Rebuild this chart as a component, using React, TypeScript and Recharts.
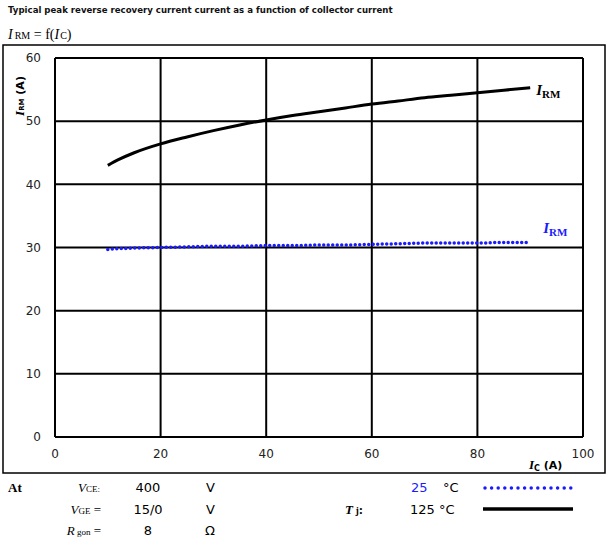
import { LineChart, Line, XAxis, YAxis, CartesianGrid } from "recharts";

const icValues = [10, 12, 15, 20, 25, 30, 35, 40, 45, 50, 55, 60, 65, 70, 75, 80, 85, 90];
const irm125 = [43.0, 43.9, 45.0, 46.4, 47.5, 48.5, 49.4, 50.2, 50.9, 51.5, 52.1, 52.7, 53.2, 53.7, 54.1, 54.5, 54.9, 55.3];
const irm25 = [29.7, 29.8, 29.9, 30.0, 30.1, 30.2, 30.2, 30.3, 30.3, 30.4, 30.4, 30.5, 30.6, 30.7, 30.7, 30.7, 30.8, 30.8];
const xTicks = [0, 20, 40, 60, 80, 100];
const yTicks = [0, 10, 20, 30, 40, 50, 60];

const data = icValues.map((ic, i) => ({ ic, hot: irm125[i], cold: irm25[i] }));

const sans = "'DejaVu Sans', Verdana, sans-serif";
const serif = "'Liberation Serif', 'Times New Roman', serif";

// curve end label, drawn only on the last point
const endLabel = (color: string, dx: number, dy: number) => (props: any) => {
  if (props.index !== data.length - 1) return null;
  return (
    <text x={props.x + dx} y={props.y + dy} fill={color} fontFamily={serif} fontSize={15} fontWeight="bold">
      <tspan fontStyle="italic">I</tspan>
      <tspan fontSize={11} dy={3}>RM</tspan>
    </text>
  );
};

export default function App() {
  return (
    <div style={{ position: "absolute", left: 0, top: 0, width: 607, height: 545, background: "#fff" }}>
      <LineChart width={607} height={545} data={data} margin={{ top: 58, right: 24, bottom: 78, left: 5 }}>
        <CartesianGrid stroke="#000" strokeWidth={2} />
        <XAxis
          dataKey="ic"
          type="number"
          domain={[0, 100]}
          ticks={xTicks}
          height={30}
          tick={{ fontSize: 12, fill: "#222", fontFamily: sans }}
          tickLine={false}
          axisLine={{ stroke: "#000", strokeWidth: 2 }}
          tickMargin={6}
        />
        <YAxis
          type="number"
          domain={[0, 60]}
          ticks={yTicks}
          width={50}
          tick={{ fontSize: 12, fill: "#222", fontFamily: sans }}
          tickLine={false}
          axisLine={{ stroke: "#000", strokeWidth: 2 }}
          tickMargin={8}
        />
        <Line
          dataKey="hot"
          stroke="#000"
          strokeWidth={3}
          dot={false}
          type="monotone"
          isAnimationActive={false}
          label={endLabel("#000", 6, 7)}
        />
        <Line
          dataKey="cold"
          stroke="#1a1aff"
          strokeWidth={3.5}
          strokeDasharray="0 4.5"
          strokeLinecap="round"
          dot={false}
          type="monotone"
          isAnimationActive={false}
          label={endLabel("#1a1aff", 13, -9)}
        />
      </LineChart>
      <svg width={607} height={545} style={{ position: "absolute", left: 0, top: 0, pointerEvents: "none" }}>
        <text x={8} y={13} fontFamily={sans} fontSize={8.6} fontWeight="bold" fill="#111">
          Typical peak reverse recovery current current as a function of collector current
        </text>
        <text x={8} y={39} fontFamily={serif} fontSize={14} fill="#000">
          <tspan fontStyle="italic">I</tspan>
          <tspan fontSize={10} dx={2}>RM</tspan>
          <tspan> = f(</tspan>
          <tspan fontStyle="italic">I</tspan>
          <tspan fontSize={10} dx={1}>C</tspan>
          <tspan>)</tspan>
        </text>
        <rect x={3} y={45} width={602} height={428} fill="none" stroke="#000" strokeWidth={1.5} />
        {/* y axis title */}
        <text transform="translate(24,96) rotate(-90)" textAnchor="middle" fontFamily={sans} fontSize={11} fontWeight="bold" fill="#000">
          <tspan fontFamily={serif} fontStyle="italic" fontSize={13}>I</tspan>
          <tspan fontSize={7}>RM</tspan>
          <tspan> (A)</tspan>
        </text>
        {/* x axis title */}
        <text x={529} y={469} fontFamily={sans} fontSize={11} fontWeight="bold" fill="#000">
          <tspan fontFamily={serif} fontStyle="italic" fontSize={13}>I</tspan>
          <tspan fontSize={8} dy={2}>C</tspan>
          <tspan dy={-2}> (A)</tspan>
        </text>
        {/* conditions table */}
        <g fontFamily={serif} fontSize={13} fill="#000">
          <text x={8} y={492} fontWeight="bold">At</text>
          <text x={100} y={492} textAnchor="end">
            <tspan fontStyle="italic">V</tspan>
            <tspan fontSize={9}>CE</tspan>
            <tspan fontSize={9}>:</tspan>
          </text>
          <text x={101} y={514} textAnchor="end">
            <tspan fontStyle="italic">V</tspan>
            <tspan fontSize={9}>GE</tspan>
            <tspan> =</tspan>
          </text>
          <text x={101} y={535} textAnchor="end">
            <tspan fontStyle="italic">R</tspan>
            <tspan fontSize={9}> gon</tspan>
            <tspan> =</tspan>
          </text>
          <text x={345} y={514} fontWeight="bold">
            <tspan fontStyle="italic">T</tspan>
            <tspan fontSize={10}> j</tspan>
            <tspan>:</tspan>
          </text>
        </g>
        <g fontFamily={sans} fontSize={13} fill="#000">
          <text x={148} y={492} textAnchor="middle">400</text>
          <text x={148} y={514} textAnchor="middle">15/0</text>
          <text x={148} y={535} textAnchor="middle">8</text>
          <text x={206} y={492}>V</text>
          <text x={206} y={514}>V</text>
          <text x={205} y={535}>Ω</text>
          <text x={411} y={492} fill="#1a1aff">25</text>
          <text x={443} y={492}>°C</text>
          <text x={410} y={514}>125 °C</text>
        </g>
        <line x1={485} y1={488} x2={573} y2={488} stroke="#1a1aff" strokeWidth={3.5} strokeDasharray="0 6.6" strokeLinecap="round" />
        <line x1={483} y1={509} x2={573} y2={509} stroke="#000" strokeWidth={3.5} />
      </svg>
    </div>
  );
}
